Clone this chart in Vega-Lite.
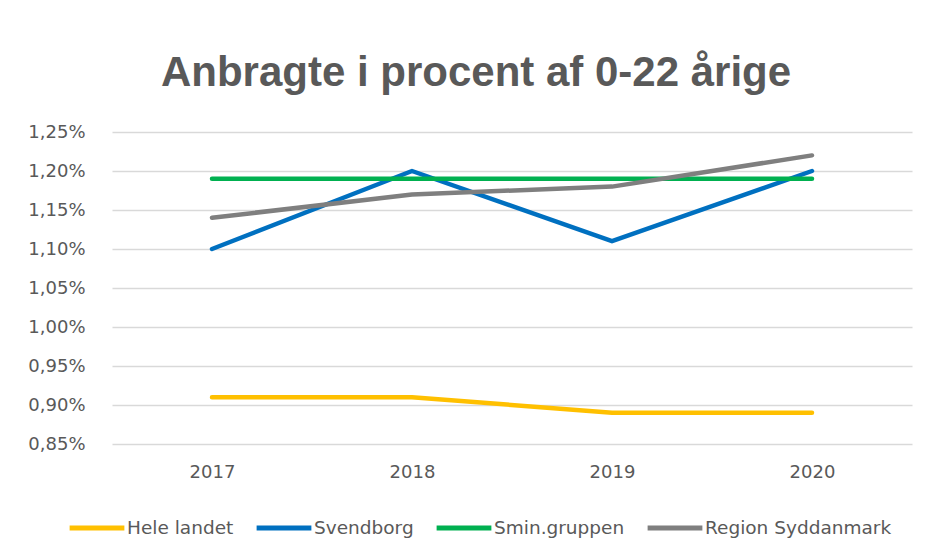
{
  "$schema": "https://vega.github.io/schema/vega-lite/v6.json",
  "width": 800,
  "height": 312,
  "autosize": {"type": "none"},
  "padding": {"left": 112, "top": 132, "right": 18, "bottom": 114},
  "background": "white",
  "title": {
    "text": "Anbragte i procent af 0-22 årige",
    "font": "Liberation Sans",
    "fontSize": 42,
    "fontWeight": "bold",
    "color": "#595959",
    "anchor": "middle",
    "baseline": "alphabetic",
    "offset": -5,
    "dx": -36
  },
  "data": {
    "values": [
      {"year": "2017", "series": "Hele landet", "value": 0.91},
      {"year": "2018", "series": "Hele landet", "value": 0.91},
      {"year": "2019", "series": "Hele landet", "value": 0.89},
      {"year": "2020", "series": "Hele landet", "value": 0.89},
      {"year": "2017", "series": "Svendborg", "value": 1.10},
      {"year": "2018", "series": "Svendborg", "value": 1.20},
      {"year": "2019", "series": "Svendborg", "value": 1.11},
      {"year": "2020", "series": "Svendborg", "value": 1.20},
      {"year": "2017", "series": "Smin.gruppen", "value": 1.19},
      {"year": "2018", "series": "Smin.gruppen", "value": 1.19},
      {"year": "2019", "series": "Smin.gruppen", "value": 1.19},
      {"year": "2020", "series": "Smin.gruppen", "value": 1.19},
      {"year": "2017", "series": "Region Syddanmark", "value": 1.14},
      {"year": "2018", "series": "Region Syddanmark", "value": 1.17},
      {"year": "2019", "series": "Region Syddanmark", "value": 1.18},
      {"year": "2020", "series": "Region Syddanmark", "value": 1.22}
    ]
  },
  "mark": {"type": "line", "strokeWidth": 4.5, "strokeCap": "round", "strokeJoin": "round"},
  "encoding": {
    "x": {
      "field": "year",
      "type": "ordinal",
      "scale": {"type": "point", "padding": 0.5},
      "axis": {
        "title": null,
        "labelAngle": 0,
        "domain": false,
        "ticks": false,
        "grid": false,
        "labelPadding": 19,
        "labelFontSize": 18,
        "labelFont": "DejaVu Sans",
        "labelColor": "#595959"
      }
    },
    "y": {
      "field": "value",
      "type": "quantitative",
      "scale": {"domain": [0.85, 1.25], "nice": false, "zero": false},
      "axis": {
        "title": null,
        "values": [0.85, 0.9, 0.95, 1.0, 1.05, 1.1, 1.15, 1.2, 1.25],
        "labelExpr": "replace(format(datum.value, '.2f'), '.', ',') + '%'",
        "domain": false,
        "ticks": false,
        "grid": true,
        "gridColor": "#D9D9D9",
        "gridWidth": 1.5,
        "labelPadding": 27,
        "labelFontSize": 18,
        "labelFont": "DejaVu Sans",
        "labelColor": "#595959"
      }
    },
    "color": {
      "field": "series",
      "type": "nominal",
      "scale": {
        "domain": ["Hele landet", "Svendborg", "Smin.gruppen", "Region Syddanmark"],
        "range": ["#FFC000", "#0070C0", "#00B050", "#7F7F7F"]
      },
      "legend": {
        "title": null,
        "orient": "none",
        "direction": "horizontal",
        "legendX": -45,
        "legendY": 366,
        "symbolType": "stroke",
        "symbolSize": 3000,
        "symbolStrokeWidth": 5,
        "labelOffset": 0,
        "columnPadding": 12,
        "labelLimit": 400,
        "labelFontSize": 18.5,
        "labelFont": "DejaVu Sans",
        "labelColor": "#595959"
      }
    }
  },
  "config": {"view": {"stroke": null}}
}
